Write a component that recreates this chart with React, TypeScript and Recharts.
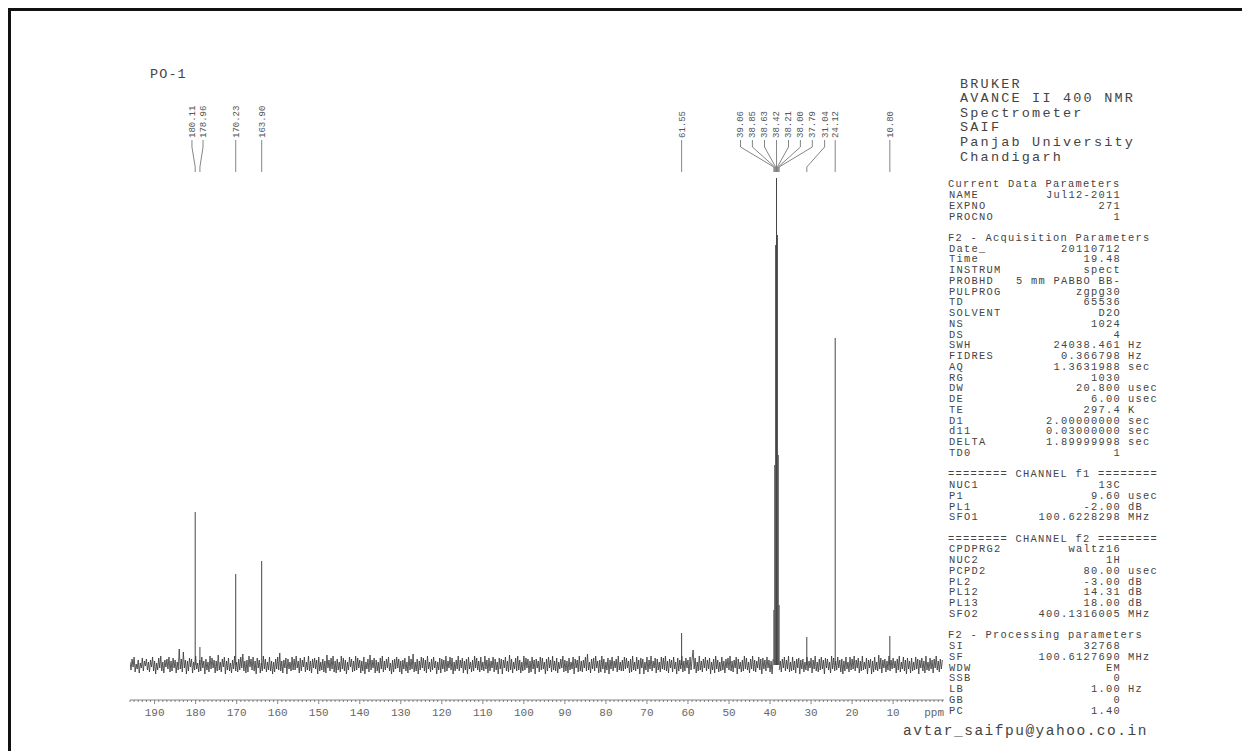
import React from 'react';
import { ComposedChart, XAxis, YAxis, Line, ReferenceDot } from 'recharts';

// ---------- data ----------
const PEAK_PPM = [180.11, 178.96, 170.23, 163.9, 61.55, 39.06, 38.85, 38.63, 38.42, 38.21, 38.0, 37.79, 31.04, 24.12, 10.8];
const PEAK_HEIGHT = [153, 18, 91, 104, 32, 55, 200, 420, 487, 430, 210, 60, 28, 327, 29];
const PEAK_LABELS = ['180.11', '178.96', '170.23', '163.90', '61.55', '39.06', '38.85', '38.63', '38.42', '38.21', '38.00', '37.79', '31.04', '24.12', '10.80'];
// where each rotated label sits along the ppm axis (labels spread apart like the Bruker plot)
const LABEL_PPM = [180.9, 178.2, 170.23, 163.9, 61.55, 47.2, 44.3, 41.35, 38.42, 35.5, 32.6, 29.7, 26.7, 24.12, 10.8];

const NOISE_START = 196;
const NOISE_STEP = 0.25;
const NOISE: (number | null)[] = [
  3, -5, 6, -2, 8, -7, 1, -4, 5, -8, 2, -3, 7, -6, 4, -1, 6, -5, 3, -7,
  5, -2, 8, -6, 4, -9, 2, -5, 7, -3, 9, -6, 3, -8, 5, -2, 6, -4, 8, -7,
  4, -6, 7, -3, 5, -8, 3, -5, 16, -4, 6, -7, 13, -3, 5, -9, 4, -6, 7, -2,
  6, -8, 3, -5, 9, -4, 2, -7, 5, -6, 8, -3, 4, -9, 6, -5, 3, -7, 9, -4,
  7, -3, 5, -8, 4, -6, 10, -5, 3, -7, 6, -2, 8, -9, 4, -5, 7, -6, 2, -8,
  5, -4, 9, -6, 3, -7, 6, -5, 8, -3, 11, -6, 4, -8, 5, -7, 9, -2, 6, -5,
  8, -6, 4, -9, 7, -3, 5, -8, 2, -6, 9, -4, 6, -7, 3, -5, 8, -6, 4, -9,
  3, -7, 6, -4, 8, -5, 12, -6, 4, -8, 5, -3, 7, -9, 6, -4, 3, -6, 8, -5,
  6, -5, 9, -3, 4, -8, 7, -6, 5, -2, 8, -7, 3, -5, 9, -6, 4, -8, 6, -3,
  7, -4, 5, -9, 8, -6, 3, -5, 6, -7, 4, -8, 10, -3, 5, -6, 7, -4, 9, -7,
  4, -8, 6, -5, 3, -7, 9, -4, 7, -6, 5, -9, 3, -5, 8, -2, 6, -7, 4, -6,
  9, -5, 7, -3, 5, -8, 4, -6, 8, -9, 3, -4, 6, -7, 10, -5, 5, -3, 7, -8,
  5, -6, 3, -8, 7, -4, 9, -7, 4, -5, 6, -3, 8, -6, 2, -9, 5, -7, 6, -4,
  8, -3, 6, -7, 4, -9, 5, -4, 7, -6, 3, -8, 9, -5, 6, -4, 11, -7, 3, -6,
  6, -9, 4, -5, 8, -3, 7, -6, 5, -8, 9, -4, 3, -7, 6, -5, 8, -3, 4, -9,
  3, -5, 7, -8, 6, -4, 5, -7, 9, -6, 4, -3, 8, -5, 7, -9, 3, -6, 5, -4,
  9, -6, 5, -3, 7, -8, 4, -5, 6, -9, 8, -4, 3, -7, 5, -6, 9, -3, 7, -5,
  4, -7, 8, -5, 3, -6, 9, -4, 5, -8, 7, -6, 4, -3, 8, -7, 6, -5, 3, -9,
  7, -4, 6, -9, 5, -3, 8, -6, 4, -7, 10, -5, 6, -8, 3, -4, 7, -6, 9, -5,
  5, -8, 3, -6, 9, -5, 7, -3, 6, -8, 4, -7, 8, -4, 5, -9, 6, -3, 4, -7,
  8, -5, 7, -4, 3, -9, 6, -6, 8, -3, 5, -7, 9, -5, 4, -6, 7, -8, 3, -4,
  6, -3, 9, -7, 5, -6, 4, -8, 7, -5, 3, -4, 8, -9, 6, -3, 5, -7, 9, -6,
  4, -7, 5, -3, 8, -6, 11, -5, 3, -8, 6, -4, 7, -6, 9, -3, 4, -8, 5, -7,
  9, -4, 6, -8, 3, -5, 7, -9, 5, -4, 8, -6, 4, -3, 6, -7, 9, -5, 3, -6,
  5, -6, 8, -4, 7, -3, 4, -8, 6, -7, 9, -5, 3, -6, 8, -4, 5, -9, 7, -3,
  6, -9, 3, -5, 8, -7, 5, -4, 9, -6, 4, -3, 7, -8, 6, -5, 3, -7, 8, -4,
  7, -5, 9, -6, 4, -8, 6, -3, 5, -7, 8, -4, 3, -9, 7, -6, 5, -4, 9, -7,
  4, -6, 7, -3, 5, -9, 8, -5, 6, 15, -4, 7, -8, 3, -6, 9, -5, 4, -7, 6,
  -3, 8, -6, 5, -4, 7, -9, 3, -5, 6, -8, 9, -4, 5, -7, 3, -6, 8, -5, 4,
  -8, 6, -3, 7, -5, 9, -6, 4, -7, 5, -3, 8, -9, 6, -4, 3, -7, 5, -6, 9,
  -4, 7, -5, 3, -8, 6, -4, 9, -6, 5, -7, 4, -3, 8, -5, 6, -9, 7, -4, 5,
  -6, 8, -3, 5, -7, 4, -9, 6, null, null, null, null, null, -5, 4, -7, 6, -3, 8, -6,
  5, -4, 9, -7, 3, -6, 8, -5, 4, -8, 6, -3, 7, -9, 5, -4, 6, -7, 3, -5,
  8, -6, 4, -3, 7, -8, 5, -4, 9, -6, 3, -7, 6, -5, 8, -4, 5, -9, 7, -3,
  6, -5, 3, -8, 9, -4, 7, -6, 4, -5, 8, -3, 5, -7, 6, -9, 4, -6, 8, -4,
  3, -7, 8, -5, 6, -4, 9, -6, 5, -3, 7, -8, 4, -6, 9, -5, 3, -4, 7, -9,
  5, -3, 6, -9, 4, -7, 8, -5, 3, -6, 10, -4, 7, -8, 5, -3, 6, -7, 4, -5,
  9, -6, 5, -4, 7, -3, 4, -8, 6, -5, 9, -7, 3, -4, 8, -6, 5, -9, 7, -4,
  4, -8, 7, -6, 3, -5, 8, -4, 6, -9, 5, -3, 7, -6, 4, -8, 9, -5, 3, -6,
  7, -4, 5, -8, 6, -3, 9, -5, 4, -7, 6, -4, 5,
];

const MAJOR_TICKS = [190, 180, 170, 160, 150, 140, 130, 120, 110, 100, 90, 80, 70, 60, 50, 40, 30, 20, 10];
const AXIS_UNIT = 'ppm';
const TITLE = 'PO-1';

const HEADER_LINES = ['BRUKER', 'AVANCE II 400 NMR', 'Spectrometer', 'SAIF', 'Panjab University', 'Chandigarh'];

// parameter listing ('' name = blank line, '#' = header line)
const PARAM_NAMES = [
  '#Current Data Parameters', 'NAME', 'EXPNO', 'PROCNO', '',
  '#F2 - Acquisition Parameters', 'Date_', 'Time', 'INSTRUM', 'PROBHD', 'PULPROG', 'TD', 'SOLVENT', 'NS', 'DS', 'SWH', 'FIDRES', 'AQ', 'RG', 'DW', 'DE', 'TE', 'D1', 'd11', 'DELTA', 'TD0', '',
  '#======== CHANNEL f1 ========', 'NUC1', 'P1', 'PL1', 'SFO1', '',
  '#======== CHANNEL f2 ========', 'CPDPRG2', 'NUC2', 'PCPD2', 'PL2', 'PL12', 'PL13', 'SFO2', '',
  '#F2 - Processing parameters', 'SI', 'SF', 'WDW', 'SSB', 'LB', 'GB', 'PC',
];
const PARAM_VALUES = [
  '', 'Jul12-2011', '271', '1', '',
  '', '20110712', '19.48', 'spect', '5 mm PABBO BB-', 'zgpg30', '65536', 'D2O', '1024', '4', '24038.461', '0.366798', '1.3631988', '1030', '20.800', '6.00', '297.4', '2.00000000', '0.03000000', '1.89999998', '1', '',
  '', '13C', '9.60', '-2.00', '100.6228298', '',
  '', 'waltz16', '1H', '80.00', '-3.00', '14.31', '18.00', '400.1316005', '',
  '', '32768', '100.6127690', 'EM', '0', '1.00', '0', '1.40',
];
const PARAM_UNITS = [
  '', '', '', '', '',
  '', '', '', '', '', '', '', '', '', '', 'Hz', 'Hz', 'sec', '', 'usec', 'usec', 'K', 'sec', 'sec', 'sec', '', '',
  '', '', 'usec', 'dB', 'MHz', '',
  '', '', '', 'usec', 'dB', 'dB', 'dB', 'MHz', '',
  '', '', 'MHz', '', '', 'Hz', '', '',
];
const EMAIL = 'avtar_saifpu@yahoo.co.in';

// ---------- series built from the arrays ----------
const noiseData = NOISE.map((v, i) => ({ ppm: NOISE_START - i * NOISE_STEP, v }));

const peakData = PEAK_PPM.flatMap((p, i) => [
  { ppm: p, v: 0 },
  { ppm: p, v: PEAK_HEIGHT[i] },
  { ppm: p, v: null },
]);

// label connector levels (intensity units)
const L_TOP = 525;
const L_BEND = 518;
const L_FOOT = 498;
const L_END = 493;
const L_TEXT = 527;

const connectorData = PEAK_PPM.flatMap((p, i) => [
  { ppm: LABEL_PPM[i], v: L_TOP },
  { ppm: LABEL_PPM[i], v: L_BEND },
  { ppm: p, v: L_FOOT },
  { ppm: p, v: L_END },
  { ppm: p, v: null },
]);

const ALL_TICKS: number[] = [];
for (let t = -2; t <= 196; t++) ALL_TICKS.push(t);

const MONO = '"Liberation Mono", "DejaVu Sans Mono", monospace';
const TXT = '#444';

const AxisTick = (props: any) => {
  const { x, y, payload } = props;
  const v = payload.value as number;
  const isMajor = MAJOR_TICKS.includes(v);
  const label = v === 0 ? AXIS_UNIT : isMajor ? String(v) : null;
  return (
    <g>
      <line x1={x} x2={x} y1={y} y2={y + (isMajor ? 4 : 2)} stroke="#666" strokeWidth={0.8} />
      {label && (
        <text x={x} y={y + 16} textAnchor="middle" fontFamily={MONO} fontSize={11} fill="#666">
          {label}
        </text>
      )}
    </g>
  );
};

const makeLabelShape = (text: string) => (p: any) => (
  <text
    x={p.cx}
    y={p.cy}
    transform={`rotate(-90 ${p.cx} ${p.cy})`}
    dy="0.33em"
    textAnchor="start"
    fontFamily={MONO}
    fontSize={9}
    fill="#555"
  >
    {text}
  </text>
);

const P_Y0 = 183.6;
const P_DY = 10.74;
const P_FONT = 10.4;
const P_LS = 1.26;

export default function App() {
  return (
    <div style={{ position: 'absolute', left: 0, top: 0, width: 1242, height: 751, background: '#fff', overflow: 'hidden' }}>
      <ComposedChart width={1242} height={751} margin={{ top: 100, right: 298, bottom: 21, left: 130 }}>
        <XAxis
          type="number"
          dataKey="ppm"
          domain={[-2.4, 196]}
          reversed
          allowDataOverflow
          ticks={ALL_TICKS}
          interval={0}
          tick={AxisTick}
          tickLine={false}
          tickSize={0}
          tickMargin={0}
          height={30}
          axisLine={{ stroke: '#666', strokeWidth: 0.8 }}
        />
        <YAxis type="number" domain={[-35, 565]} hide allowDataOverflow />
        <Line
          data={noiseData}
          dataKey="v"
          stroke="#333"
          strokeWidth={0.8}
          dot={false}
          isAnimationActive={false}
          connectNulls={false}
        />
        <Line
          data={peakData}
          dataKey="v"
          stroke="#444"
          strokeWidth={1}
          dot={false}
          isAnimationActive={false}
          connectNulls={false}
        />
        <Line
          data={connectorData}
          dataKey="v"
          stroke="#666"
          strokeWidth={0.8}
          dot={false}
          isAnimationActive={false}
          connectNulls={false}
        />
        {PEAK_LABELS.map((t, i) => (
          <ReferenceDot key={t} x={LABEL_PPM[i]} y={L_TEXT} r={0} shape={makeLabelShape(t)} />
        ))}
      </ComposedChart>
      <svg width={1242} height={751} style={{ position: 'absolute', left: 0, top: 0, pointerEvents: 'none' }}>
        <line x1={8} x2={1242} y1={9.5} y2={9.5} stroke="#111" strokeWidth={3} />
        <line x1={9.5} x2={9.5} y1={8} y2={751} stroke="#111" strokeWidth={3} />
        <text x={150} y={78} fontFamily={MONO} fontSize={13.5} letterSpacing={1.1} fill={TXT}>{TITLE}</text>
        {HEADER_LINES.map((t, i) => (
          <text key={t} x={960} y={87.5 + i * 14.6} fontFamily={MONO} fontSize={13.5} letterSpacing={2.2} fill={TXT}>{t}</text>
        ))}
        {PARAM_NAMES.map((n, i) => {
          const y = P_Y0 + i * P_DY + 3.7;
          if (n === '') return null;
          if (n.startsWith('#')) {
            return (
              <text key={i} x={948} y={y} fontFamily={MONO} fontSize={P_FONT} letterSpacing={P_LS} fill={TXT}>{n.slice(1)}</text>
            );
          }
          return (
            <g key={i}>
              <text x={949} y={y} fontFamily={MONO} fontSize={P_FONT} letterSpacing={P_LS} fill={TXT}>{n}</text>
              <text x={1121} y={y} textAnchor="end" fontFamily={MONO} fontSize={P_FONT} letterSpacing={P_LS} fill={TXT}>{PARAM_VALUES[i]}</text>
              {PARAM_UNITS[i] && (
                <text x={1128} y={y} fontFamily={MONO} fontSize={P_FONT} letterSpacing={P_LS} fill={TXT}>{PARAM_UNITS[i]}</text>
              )}
            </g>
          );
        })}
        <text x={903} y={735} fontFamily={MONO} fontSize={14.5} letterSpacing={1.5} fill={TXT}>{EMAIL}</text>
      </svg>
    </div>
  );
}
